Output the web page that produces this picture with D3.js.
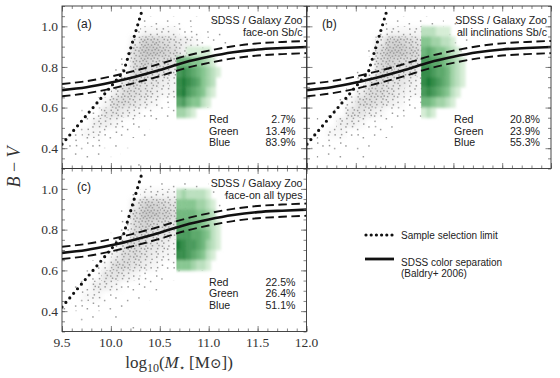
<!DOCTYPE html>
<html><head><meta charset="utf-8">
<script src="https://cdn.jsdelivr.net/npm/d3@7"></script>
<style>body{margin:0;background:#fff}svg{display:block}</style>
</head><body><svg id="chart" width="560" height="378"></svg>
<script>
// ---------------- DATA ----------------
const xDomain = [9.5, 12.0];
const yDomain = [0.3, 1.1];
const xTickValues = [9.5, 10.0, 10.5, 11.0, 11.5, 12.0];
const xTickLabels = ["9.5", "10.0", "10.5", "11.0", "11.5", "12.0"];
const yTickValues = [0.4, 0.6, 0.8, 1.0];
const yTickLabels = ["0.4", "0.6", "0.8", "1.0"];

const panelLabels = ["(a)", "(b)", "(c)"];
const panelTitles = ["SDSS / Galaxy Zoo", "SDSS / Galaxy Zoo", "SDSS / Galaxy Zoo"];
const panelSubtitles = ["face-on Sb/c", "all inclinations Sb/c", "face-on all types"];
const colorClasses = ["Red", "Green", "Blue"];
const pctA = [2.7, 13.4, 83.9];
const pctB = [20.8, 23.9, 55.3];
const pctC = [22.5, 26.4, 51.1];

// Baldry+2006 colour separation
const baldryX = [9.5, 9.75, 10.0, 10.25, 10.5, 10.75, 11.0, 11.25, 11.5, 11.75, 12.0];
const baldryY = [0.686, 0.700, 0.723, 0.752, 0.785, 0.822, 0.850, 0.872, 0.886, 0.893, 0.898];
const baldryWidth = 0.03;

// sample selection limit
const selX = [9.5, 10.13, 10.32];
const selY = [0.42, 0.777, 1.08];

// gray parent sample: 2D histogram (bin lower edges)
const grayBinX = [9.5, 9.6, 9.7, 9.8, 9.9, 10.0, 10.1, 10.2, 10.3, 10.4, 10.5, 10.6, 10.7, 10.8, 10.9, 11.0, 11.1, 11.2];
const grayBinY = [1.05, 1.00, 0.95, 0.90, 0.85, 0.80, 0.75, 0.70, 0.65, 0.60, 0.55, 0.50, 0.45, 0.40, 0.35, 0.30];
const grayDensity = [
  [0,0,0,0,0,0,0,0,0,0,0,0,0,0,0,0,0,0],
  [0,0,0,0,0,0,0,0,1,1,1,1,1,1,0,1,0,0],
  [0,0,0,0,0,0,0,1,3,3,3,3,2,2,1,1,1,0],
  [0,0,0,0,0,0,0,4,7,7,6,5,4,3,2,1,1,0],
  [0,0,0,0,0,0,1,6,8,8,7,6,4,3,2,1,0,0],
  [0,0,0,0,0,0,2,6,7,6,6,5,3,2,1,1,0,0],
  [0,0,0,0,0,1,2,6,6,5,5,4,2,1,1,0,0,0],
  [0,0,0,0,0,2,5,6,5,5,4,3,2,1,0,0,0,0],
  [0,0,0,0,1,4,6,6,5,4,3,3,1,1,0,0,0,0],
  [0,0,0,1,3,6,6,5,4,3,2,2,1,0,1,0,0,0],
  [0,0,1,2,5,5,4,3,2,2,1,1,0,0,0,0,0,0],
  [0,1,1,4,4,3,2,2,1,1,0,0,0,0,0,0,0,0],
  [0,1,3,3,2,2,1,1,1,0,0,0,0,0,0,0,0,0],
  [1,2,2,2,1,1,1,0,0,0,0,0,0,0,0,0,0,0],
  [0,1,1,1,0,1,0,0,0,0,0,0,0,0,0,0,0,0],
  [0,0,0,0,0,0,0,1,0,0,0,0,0,0,0,0,0,0]
];
const grayBinW = 0.1, grayBinH = 0.05;

// green (selected sample) density grids
const greenBinX = [10.67, 10.72, 10.77, 10.82, 10.87, 10.92, 10.97, 11.02, 11.07];
const greenBinY = [0.95, 0.90, 0.85, 0.80, 0.75, 0.70, 0.65, 0.60, 0.55];
const greenBinW = 0.05, greenBinH = 0.05;
const greenA = [
  [0,0,0,0,0,0,0,0,0],
  [0,0,0,0,0,0,0,0,0],
  [0,0,1,1,1,1,1,0,0],
  [5,5,5,4,4,3,2,1,0],
  [7,8,7,6,5,4,3,2,1],
  [8,9,8,7,6,4,3,2,0],
  [8,9,7,6,5,4,2,1,0],
  [6,7,5,4,4,2,1,0,0],
  [3,3,2,1,0,0,0,0,0]
];
const greenB = [
  [2,2,2,1,1,1,0,0,0],
  [4,4,3,3,2,2,1,0,0],
  [5,6,5,4,4,3,2,1,0],
  [7,7,6,6,5,4,3,2,1],
  [8,8,7,6,6,5,3,2,1],
  [8,9,8,7,6,5,3,2,1],
  [7,8,7,6,5,4,2,1,0],
  [5,5,4,3,3,2,1,0,0],
  [1,2,1,0,0,0,0,0,0]
];
const greenC = [
  [2,3,2,2,2,2,1,0,0],
  [4,4,4,4,3,3,2,1,0],
  [5,5,5,5,4,4,3,2,0],
  [6,6,6,5,5,4,3,2,1],
  [7,7,7,6,6,5,4,2,1],
  [9,8,7,7,6,5,3,2,1],
  [8,8,7,6,5,4,2,1,0],
  [4,4,4,3,2,2,1,0,0],
  [0,0,0,0,0,0,0,0,0]
];

const legendLabels = ["Sample selection limit", "SDSS color separation", "(Baldry+ 2006)"];

// ---------------- LAYOUT / STYLE ----------------
const svg = d3.select("#chart");
const defs = svg.append("defs");
const sans = "'Liberation Sans', Arial, sans-serif";
const serif = "'Liberation Serif', 'DejaVu Serif', serif";

const layout = [
  {x0: 62, x1: 306.5, y0: 6, y1: 168.5, green: greenA, pct: pctA, yLabels: true, xLabels: false},
  {x0: 307, x1: 551, y0: 6, y1: 168.5, green: greenB, pct: pctB, yLabels: false, xLabels: false},
  {x0: 62, x1: 306.5, y0: 168.5, y1: 331.5, green: greenC, pct: pctC, yLabels: true, xLabels: true}
];

// speckle textures for the gray cloud (pure texture, low-discrepancy layout inside a tile)
const tileW = 23, tileH = 19;
const speckCount = [0, 4, 9, 15, 22, 29, 36, 43, 50, 56];
for (let L = 1; L <= 9; L++) {
  const p = defs.append("pattern").attr("id", "speck" + L)
    .attr("patternUnits", "userSpaceOnUse").attr("width", tileW).attr("height", tileH);
  for (let n = 0; n < speckCount[L]; n++) {
    const fx = (0.5 + (n + 1) * 0.7548776662) % 1, fy = (0.5 + (n + 1) * 0.5698402910) % 1;
    p.append("rect").attr("x", (fx * tileW).toFixed(1)).attr("y", (fy * tileH).toFixed(1))
      .attr("width", 1.5).attr("height", 1.5).attr("fill", "#9c9c9c");
  }
}
defs.append("filter").attr("id", "gblur").attr("x", "-20%").attr("y", "-20%").attr("width", "140%").attr("height", "140%")
  .append("feGaussianBlur").attr("stdDeviation", 1.8);
defs.append("filter").attr("id", "bblur").attr("x", "-10%").attr("y", "-10%").attr("width", "120%").attr("height", "120%")
  .append("feGaussianBlur").attr("stdDeviation", 2.5);

const greenColor = d3.scaleLinear().domain([1, 4, 9]).range(["#d6edd6", "#86c690", "#1f7d37"]);

layout.forEach((P, i) => {
  const x = d3.scaleLinear().domain(xDomain).range([P.x0, P.x1]);
  const y = d3.scaleLinear().domain(yDomain).range([P.y1, P.y0]);
  const g = svg.append("g");
  const clipId = "clip" + i;
  defs.append("clipPath").attr("id", clipId).append("rect")
    .attr("x", P.x0).attr("y", P.y0).attr("width", P.x1 - P.x0).attr("height", P.y1 - P.y0);
  const inner = g.append("g").attr("clip-path", `url(#${clipId})`);

  // gray cloud
  const cells = [];
  grayDensity.forEach((row, r) => row.forEach((v, c) => { if (v > 0) cells.push({x: grayBinX[c], y: grayBinY[r], v}); }));
  inner.append("g").attr("filter", "url(#bblur)")
    .selectAll("rect").data(cells.filter(d => d.v >= 3)).join("rect")
    .attr("x", d => x(d.x)).attr("y", d => y(d.y + grayBinH))
    .attr("width", d => x(d.x + grayBinW) - x(d.x)).attr("height", d => y(d.y) - y(d.y + grayBinH))
    .attr("fill", "#bdbdbd").attr("opacity", d => Math.min(0.85, (d.v - 2) * 0.13));
  inner.append("g").selectAll("rect").data(cells).join("rect")
    .attr("x", d => x(d.x)).attr("y", d => y(d.y + grayBinH))
    .attr("width", d => x(d.x + grayBinW) - x(d.x)).attr("height", d => y(d.y) - y(d.y + grayBinH))
    .attr("fill", d => `url(#speck${d.v})`);

  // green selected sample
  const gclip = "gclip" + i;
  defs.append("clipPath").attr("id", gclip).append("rect")
    .attr("x", x(greenBinX[0])).attr("y", P.y0).attr("width", P.x1 - x(greenBinX[0])).attr("height", P.y1 - P.y0);
  const gcells = [];
  P.green.forEach((row, r) => row.forEach((v, c) => { if (v > 0) gcells.push({x: greenBinX[c], y: greenBinY[r], v}); }));
  inner.append("g").attr("clip-path", `url(#${gclip})`)
    .append("g").attr("filter", "url(#gblur)")
    .selectAll("rect").data(gcells).join("rect")
    .attr("x", d => x(d.x) - (d.x === greenBinX[0] ? 3 : 0)).attr("y", d => y(d.y + greenBinH))
    .attr("width", d => x(d.x + greenBinW) - x(d.x) + 0.3 + (d.x === greenBinX[0] ? 3 : 0)).attr("height", d => y(d.y) - y(d.y + greenBinH) + 0.3)
    .attr("fill", d => greenColor(d.v));

  // Baldry lines
  const bl = d3.line().x(d => x(d[0])).y(d => y(d[1])).curve(d3.curveMonotoneX);
  [-baldryWidth, baldryWidth].forEach(off => {
    inner.append("path").attr("d", bl(baldryX.map((v, k) => [v, baldryY[k] + off])))
      .attr("fill", "none").attr("stroke", "#111").attr("stroke-width", 1.9).attr("stroke-dasharray", "8.5,4.5");
  });
  inner.append("path").attr("d", bl(baldryX.map((v, k) => [v, baldryY[k]])))
    .attr("fill", "none").attr("stroke", "#111").attr("stroke-width", 2.6);

  // selection limit
  const sl = d3.line().x(d => x(d[0])).y(d => y(d[1]));
  inner.append("path").attr("d", sl(selX.map((v, k) => [v, selY[k]])))
    .attr("fill", "none").attr("stroke", "#111").attr("stroke-width", 3.2)
    .attr("stroke-linecap", "round").attr("stroke-dasharray", "0,6");

  // ticks on all four sides (inward)
  const xMinor = d3.range(95, 121).map(v => v / 10);
  const yMinor = d3.range(6, 23).map(v => v / 20);
  const tickStyle = sel => { sel.select(".domain").remove(); sel.selectAll("line").attr("stroke", "#666").attr("stroke-width", 0.8); sel.selectAll("text").remove(); };
  g.append("g").attr("transform", `translate(0,${P.y1})`).call(d3.axisBottom(x).tickValues(xMinor).tickSize(-3)).call(tickStyle);
  g.append("g").attr("transform", `translate(0,${P.y1})`).call(d3.axisBottom(x).tickValues(xTickValues).tickSize(-5.5)).call(tickStyle);
  g.append("g").attr("transform", `translate(0,${P.y0})`).call(d3.axisTop(x).tickValues(xMinor).tickSize(-3)).call(tickStyle);
  g.append("g").attr("transform", `translate(0,${P.y0})`).call(d3.axisTop(x).tickValues(xTickValues).tickSize(-5.5)).call(tickStyle);
  g.append("g").attr("transform", `translate(${P.x0},0)`).call(d3.axisLeft(y).tickValues(yMinor).tickSize(-3)).call(tickStyle);
  g.append("g").attr("transform", `translate(${P.x0},0)`).call(d3.axisLeft(y).tickValues(yTickValues).tickSize(-5.5)).call(tickStyle);
  g.append("g").attr("transform", `translate(${P.x1},0)`).call(d3.axisRight(y).tickValues(yMinor).tickSize(-3)).call(tickStyle);
  g.append("g").attr("transform", `translate(${P.x1},0)`).call(d3.axisRight(y).tickValues(yTickValues).tickSize(-5.5)).call(tickStyle);

  g.append("rect").attr("x", P.x0).attr("y", P.y0).attr("width", P.x1 - P.x0).attr("height", P.y1 - P.y0)
    .attr("fill", "none").attr("stroke", "#333").attr("stroke-width", 0.9);

  // tick labels
  if (P.yLabels) {
    g.append("g").selectAll("text").data(yTickValues).join("text")
      .attr("x", P.x0 - 4).attr("y", d => y(d)).attr("dy", "0.35em").attr("text-anchor", "end")
      .attr("font-family", serif).attr("font-size", 13.5).attr("fill", "#333")
      .text((d, k) => yTickLabels[k]);
  }
  if (P.xLabels) {
    g.append("g").selectAll("text").data(xTickValues).join("text")
      .attr("x", d => x(d)).attr("y", P.y1 + 15).attr("text-anchor", "middle")
      .attr("font-family", serif).attr("font-size", 13.5).attr("fill", "#333")
      .text((d, k) => xTickLabels[k]);
  }

  // panel texts
  g.append("text").attr("x", P.x0 + 15).attr("y", P.y0 + 22).attr("font-family", sans).attr("font-size", 12).attr("fill", "#222").text(panelLabels[i]);
  g.append("text").attr("x", P.x1 - 4).attr("y", P.y0 + 18).attr("text-anchor", "end").attr("font-family", sans).attr("font-size", 10.6).attr("fill", "#222").text(panelTitles[i]);
  g.append("text").attr("x", P.x1 - 4).attr("y", P.y0 + 30).attr("text-anchor", "end").attr("font-family", sans).attr("font-size", 10.6).attr("fill", "#222").text(panelSubtitles[i]);
  colorClasses.forEach((c, k) => {
    g.append("text").attr("x", P.x0 + 147).attr("y", P.y0 + 117 + k * 11.5).attr("font-family", sans).attr("font-size", 10.6).attr("fill", "#222").text(c);
    g.append("text").attr("x", P.x1 - 11).attr("y", P.y0 + 117 + k * 11.5).attr("text-anchor", "end").attr("font-family", sans).attr("font-size", 10.6).attr("fill", "#222").text(P.pct[k].toFixed(1) + "%");
  });
});

// axis titles
const xl = svg.append("text").attr("x", 179).attr("y", 368).attr("text-anchor", "middle")
  .attr("font-family", serif).attr("font-size", 17).attr("fill", "#333");
xl.append("tspan").text("log");
xl.append("tspan").attr("font-size", 12).attr("dy", 4).text("10");
xl.append("tspan").attr("dy", -4).text("(");
xl.append("tspan").attr("font-style", "italic").text("M");
xl.append("tspan").attr("font-size", 10).attr("dy", 3).text("\u22C6");
xl.append("tspan").attr("dy", -3).text(" [M");
xl.append("tspan").attr("font-family", "'DejaVu Serif', serif").attr("font-size", 14).text("\u2299");
xl.append("tspan").text("])");

const yl = svg.append("text").attr("transform", "translate(14,167) rotate(-90)").attr("text-anchor", "middle")
  .attr("dy", "0.35em").attr("font-family", serif).attr("font-size", 18).attr("fill", "#333");
yl.append("tspan").attr("font-style", "italic").text("B");
yl.append("tspan").text(" \u2212 ");
yl.append("tspan").attr("font-style", "italic").text("V");

// legend
const lg = svg.append("g");
lg.append("line").attr("x1", 366).attr("x2", 392).attr("y1", 235).attr("y2", 235)
  .attr("stroke", "#111").attr("stroke-width", 3.2).attr("stroke-linecap", "round").attr("stroke-dasharray", "0,5.2");
lg.append("text").attr("x", 401).attr("y", 238.5).attr("font-family", sans).attr("font-size", 10).attr("fill", "#222").text(legendLabels[0]);
lg.append("line").attr("x1", 365).attr("x2", 394).attr("y1", 259).attr("y2", 259).attr("stroke", "#111").attr("stroke-width", 2.8);
lg.append("text").attr("x", 401).attr("y", 266).attr("font-family", sans).attr("font-size", 10).attr("fill", "#222").text(legendLabels[1]);
lg.append("text").attr("x", 401).attr("y", 277).attr("font-family", sans).attr("font-size", 10).attr("fill", "#222").text(legendLabels[2]);
</script>
</body></html>
